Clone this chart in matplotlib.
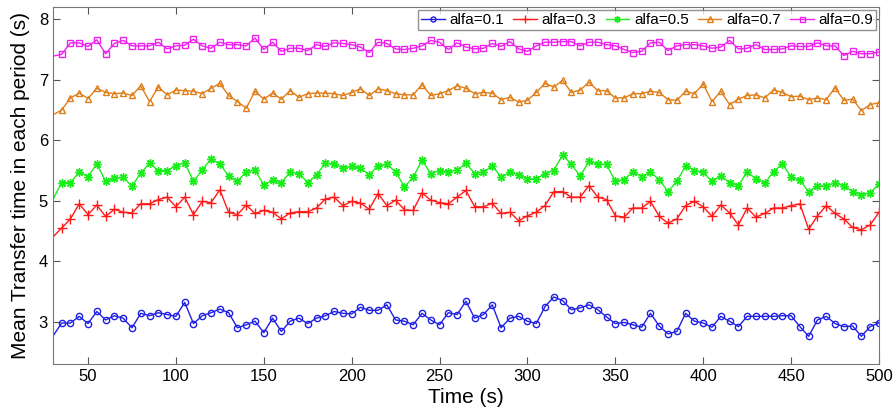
import numpy as np
import matplotlib
matplotlib.use("Agg")
import matplotlib.pyplot as plt

plt.rcParams['font.family'] = ['Liberation Sans', 'DejaVu Sans']

# time axis, one sample every 5 s
time = np.arange(30, 505, 5)

alfa_01 = [2.76, 2.98, 2.98, 3.09, 2.97, 3.17, 3.03, 3.10, 3.06, 2.90, 3.14, 3.10, 3.15, 3.12, 3.09, 3.32,
           2.97, 3.10, 3.15, 3.21, 3.15, 2.90, 2.95, 3.01, 2.82, 3.06, 2.84, 3.01, 3.06, 2.97, 3.06, 3.10,
           3.17, 3.14, 3.13, 3.24, 3.19, 3.19, 3.28, 3.03, 3.01, 2.95, 3.14, 3.03, 2.95, 3.15, 3.12, 3.34,
           3.06, 3.12, 3.28, 2.90, 3.06, 3.09, 3.01, 2.97, 3.25, 3.41, 3.35, 3.20, 3.23, 3.28, 3.20, 3.08,
           2.97, 2.99, 2.95, 2.91, 3.14, 2.93, 2.80, 2.84, 3.14, 3.01, 2.98, 2.91, 3.09, 3.01, 2.92, 3.09,
           3.09, 3.09, 3.09, 3.10, 3.10, 2.92, 2.76, 3.03, 3.09, 2.97, 2.92, 2.93, 2.76, 2.92, 2.98]

alfa_03 = [4.40, 4.55, 4.70, 4.95, 4.77, 4.93, 4.74, 4.86, 4.81, 4.80, 4.95, 4.95, 5.02, 5.06, 4.90, 5.06,
           4.77, 4.99, 4.97, 5.18, 4.81, 4.77, 4.93, 4.79, 4.84, 4.81, 4.70, 4.80, 4.82, 4.82, 4.88, 5.03,
           5.06, 4.92, 4.99, 4.96, 4.86, 5.12, 4.92, 5.01, 4.85, 4.84, 5.13, 5.01, 4.97, 4.95, 5.06, 5.17,
           4.90, 4.90, 4.96, 4.79, 4.81, 4.67, 4.75, 4.81, 4.92, 5.15, 5.15, 5.06, 5.06, 5.25, 5.06, 5.02,
           4.75, 4.73, 4.88, 4.88, 4.99, 4.74, 4.63, 4.70, 4.92, 4.99, 4.90, 4.74, 4.93, 4.80, 4.60, 4.88,
           4.73, 4.79, 4.88, 4.88, 4.92, 4.95, 4.53, 4.75, 4.92, 4.79, 4.70, 4.56, 4.52, 4.60, 4.81]

alfa_05 = [5.02, 5.30, 5.30, 5.47, 5.40, 5.61, 5.32, 5.37, 5.39, 5.24, 5.46, 5.62, 5.50, 5.50, 5.58, 5.63,
           5.32, 5.51, 5.69, 5.61, 5.41, 5.32, 5.48, 5.51, 5.26, 5.34, 5.30, 5.47, 5.45, 5.30, 5.43, 5.62,
           5.61, 5.54, 5.57, 5.54, 5.43, 5.58, 5.60, 5.48, 5.23, 5.39, 5.67, 5.45, 5.50, 5.48, 5.51, 5.62,
           5.45, 5.47, 5.58, 5.39, 5.47, 5.43, 5.36, 5.36, 5.45, 5.50, 5.76, 5.60, 5.41, 5.65, 5.61, 5.60,
           5.32, 5.35, 5.48, 5.40, 5.47, 5.35, 5.15, 5.32, 5.58, 5.50, 5.47, 5.32, 5.41, 5.30, 5.25, 5.48,
           5.36, 5.29, 5.48, 5.61, 5.39, 5.34, 5.15, 5.25, 5.24, 5.30, 5.25, 5.15, 5.10, 5.13, 5.28]

alfa_07 = [6.42, 6.50, 6.70, 6.78, 6.69, 6.86, 6.79, 6.77, 6.78, 6.74, 6.90, 6.64, 6.88, 6.75, 6.83, 6.82,
           6.81, 6.77, 6.86, 6.94, 6.74, 6.64, 6.53, 6.81, 6.68, 6.78, 6.68, 6.82, 6.71, 6.77, 6.78, 6.78,
           6.77, 6.74, 6.79, 6.85, 6.74, 6.85, 6.82, 6.77, 6.75, 6.75, 6.92, 6.74, 6.77, 6.82, 6.90, 6.86,
           6.77, 6.79, 6.78, 6.67, 6.71, 6.63, 6.66, 6.79, 6.94, 6.88, 6.99, 6.79, 6.83, 6.96, 6.82, 6.82,
           6.70, 6.70, 6.77, 6.77, 6.81, 6.79, 6.67, 6.66, 6.81, 6.77, 6.93, 6.64, 6.81, 6.59, 6.68, 6.74,
           6.75, 6.70, 6.83, 6.79, 6.72, 6.73, 6.67, 6.70, 6.67, 6.87, 6.66, 6.68, 6.49, 6.59, 6.62]

alfa_09 = [7.39, 7.42, 7.61, 7.61, 7.55, 7.66, 7.43, 7.60, 7.65, 7.56, 7.56, 7.56, 7.62, 7.51, 7.56, 7.57,
           7.67, 7.56, 7.52, 7.62, 7.58, 7.58, 7.56, 7.69, 7.50, 7.62, 7.47, 7.52, 7.52, 7.48, 7.58, 7.55,
           7.61, 7.60, 7.58, 7.54, 7.45, 7.62, 7.60, 7.51, 7.50, 7.52, 7.56, 7.65, 7.62, 7.50, 7.61, 7.54,
           7.51, 7.52, 7.60, 7.55, 7.63, 7.51, 7.47, 7.56, 7.62, 7.62, 7.63, 7.63, 7.56, 7.62, 7.62, 7.58,
           7.56, 7.50, 7.45, 7.47, 7.61, 7.62, 7.48, 7.56, 7.58, 7.58, 7.56, 7.52, 7.54, 7.65, 7.51, 7.52,
           7.58, 7.50, 7.50, 7.51, 7.56, 7.55, 7.55, 7.61, 7.56, 7.56, 7.40, 7.47, 7.43, 7.43, 7.46]

# label, values, colour, marker, marker size
series = [
    ('alfa=0.1', alfa_01, '#1f1fe6', 'o', 4.5),
    ('alfa=0.3', alfa_03, '#ff1a1a', '+', 6.5),
    ('alfa=0.5', alfa_05, '#1aee1a', (8, 2, 0), 6.0),
    ('alfa=0.7', alfa_07, '#e07e1a', '^', 5.0),
    ('alfa=0.9', alfa_09, '#ee22ee', 's', 4.5),
]

fig = plt.figure(figsize=(8.96, 4.2), dpi=100)
ax = fig.add_axes([0.059, 0.133, 0.922, 0.85])

for label, vals, color, marker, ms in series:
    ax.plot(time, vals, color=color, marker=marker, markersize=ms,
            markerfacecolor='none', markeredgecolor=color, markeredgewidth=1.0,
            linewidth=1.0, markevery=slice(1, None), label=label)

ax.set_xlim(30, 500)
ax.set_ylim(2.3, 8.2)
ax.set_xticks(np.arange(50, 501, 50))
ax.set_yticks([3, 4, 5, 6, 7, 8])
ax.tick_params(direction='in', top=True, right=True, labelsize=12, length=5,
               color='#555555')
for sp in ax.spines.values():
    sp.set_color('#777777')

ax.set_xlabel('Time (s)', fontsize=15, labelpad=3)
ax.set_ylabel('Mean Transfer time in each period (s)', fontsize=15, labelpad=6)

leg = ax.legend(loc='upper right', ncol=5, fontsize=11, frameon=True, fancybox=False,
                handlelength=1.55, handletextpad=0.3, columnspacing=0.6,
                borderpad=0.2, borderaxespad=0.2, markerscale=0.8)
leg.get_frame().set_edgecolor('#777777')
leg.get_frame().set_linewidth(1.0)

fig.savefig('out.png', dpi=100)
